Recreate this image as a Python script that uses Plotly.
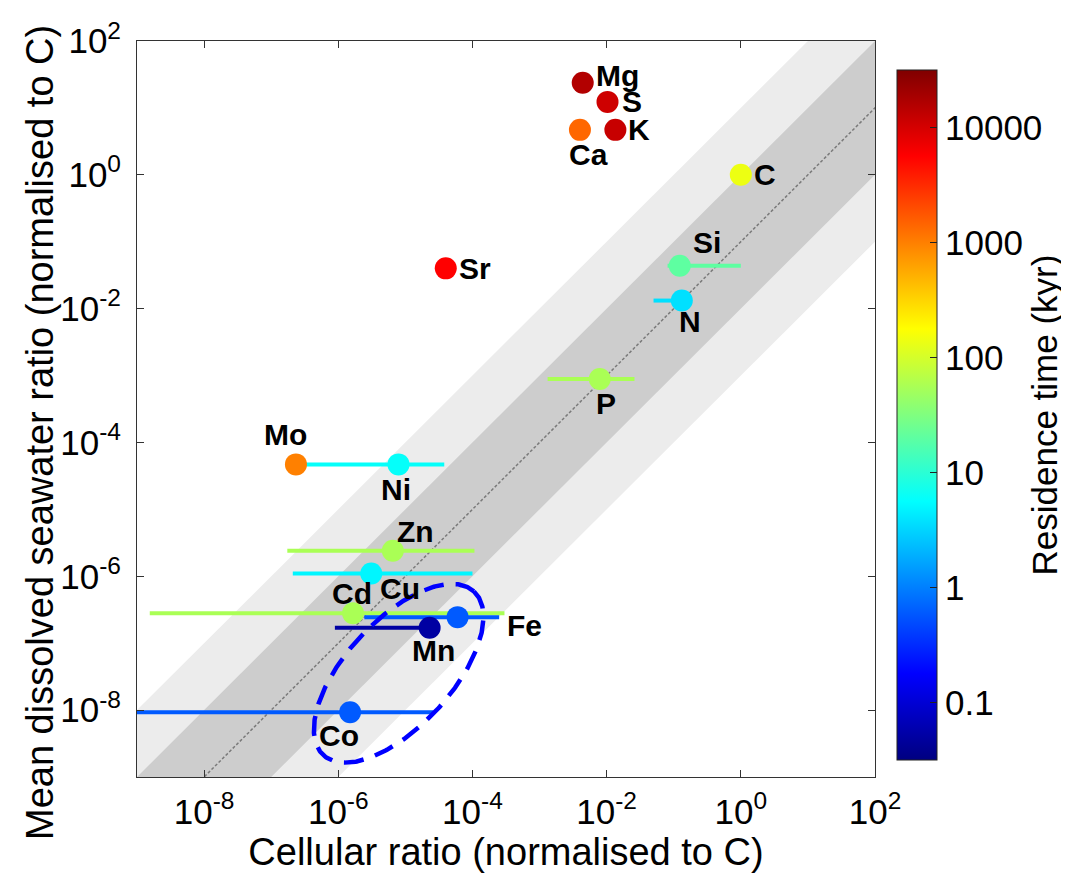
import numpy as np
import plotly.graph_objects as go

# ---------------- data ----------------
elements = ['Mg', 'S', 'K', 'Ca', 'C', 'Si', 'N', 'P', 'Sr', 'Mo', 'Ni', 'Zn', 'Cu', 'Cd', 'Fe', 'Mn', 'Co']
cellular_ratio = [4.4e-3, 1.03e-2, 1.35e-2, 4.0e-3, 1.0, 0.123, 0.132, 7.9e-3, 4.0e-5, 2.34e-7,
                  7.9e-6, 6.5e-6, 3.1e-6, 1.66e-6, 6.0e-5, 2.3e-5, 1.5e-6]
seawater_ratio = [23.7, 12.3, 4.7, 4.7, 1.0, 0.0437, 0.0132, 8.9e-4, 0.040, 4.7e-5,
                  4.7e-5, 2.4e-6, 1.1e-6, 2.8e-7, 2.45e-7, 1.7e-7, 9.3e-9]
nan = float('nan')
cellular_low = [nan, nan, nan, nan, nan, 0.081, 0.050, 1.32e-3, nan, nan,
                2.34e-7, 1.74e-7, 2.1e-7, 1.55e-9, 2.45e-6, 8.9e-7, 1e-10]
cellular_high = [nan, nan, nan, nan, nan, 1.0, 0.132, 0.026, nan, nan,
                 3.8e-5, 1.07e-4, 1.0e-4, 3.0e-4, 2.5e-4, 2.3e-5, 2.6e-5]
residence_kyr = [16000, 11000, 12000, 1400, 140, 20, 3.7, 56, 5600, 1000,
                 6, 56, 5, 56, 0.6, 0.05, 0.6]

x_tick_vals = [1e-8, 1e-6, 1e-4, 1e-2, 1e0, 1e2]
x_tick_text = ['10<sup>-8</sup>', '10<sup>-6</sup>', '10<sup>-4</sup>', '10<sup>-2</sup>', '10<sup>0</sup>', '10<sup>2</sup>']
y_tick_vals = [1e-8, 1e-6, 1e-4, 1e-2, 1e0, 1e2]
y_tick_text = ['10<sup>-8</sup>', '10<sup>-6</sup>', '10<sup>-4</sup>', '10<sup>-2</sup>', '10<sup>0</sup>', '10<sup>2</sup>']
cbar_tick_vals = [0.1, 1, 10, 100, 1000, 10000]
cbar_tick_text = ['0.1', '1', '10', '100', '1000', '10000']

x_title = 'Cellular ratio (normalised to C)'
y_title = 'Mean dissolved seawater ratio (normalised to C)'
cbar_title = 'Residence time (kyr)'

# band factors (seawater / cellular)
ref_factor = 1e-1
dark_band = (1e-2, 1e0)
light_band = (1e-3, 1e1)

# ellipse (log10 units)
ell_center = (-5.10, -7.45)
ell_axes = (1.66, 0.79)
ell_angle_deg = 47.5

# ---------------- styling ----------------
FONT = 'Liberation Sans, Arial, sans-serif'
CMIN, CMAX = -1.5, 4.5
JET = [[0.0, 'rgb(0,0,128)'], [0.125, 'rgb(0,0,255)'], [0.375, 'rgb(0,255,255)'],
       [0.625, 'rgb(255,255,0)'], [0.875, 'rgb(255,0,0)'], [1.0, 'rgb(128,0,0)']]

def jet_color(logv):
    f = min(max((logv - CMIN) / (CMAX - CMIN), 0), 1)
    stops = [(0, (0, 0, 128)), (0.125, (0, 0, 255)), (0.375, (0, 255, 255)),
             (0.625, (255, 255, 0)), (0.875, (255, 0, 0)), (1.0, (128, 0, 0))]
    for (f0, c0), (f1, c1) in zip(stops[:-1], stops[1:]):
        if f <= f1:
            t = (f - f0) / (f1 - f0)
            c = [round(a + (b - a) * t) for a, b in zip(c0, c1)]
            return 'rgb(%d,%d,%d)' % tuple(c)
    return 'rgb(128,0,0)'

# label placement: (xanchor, xshift, yshift)
label_pos = {
    'Mg': ('left', 11, 7), 'S': ('left', 12, 0), 'K': ('left', 11, 0), 'Ca': ('center', 9, -25),
    'C': ('left', 11, 0), 'Si': ('center', 27, 23), 'N': ('center', 8, -21), 'P': ('center', 6, -25),
    'Sr': ('left', 11, 0), 'Mo': ('center', -10, 30), 'Ni': ('center', -3, -25), 'Zn': ('center', 23, 19),
    'Cu': ('center', 29, -15), 'Cd': ('center', -1, 20), 'Fe': ('left', 47, -8), 'Mn': ('center', 4, -23),
    'Co': ('center', -11, -23),
}

fig = go.Figure()

xe = [1e-10, 1e3]
# light band
fig.add_trace(go.Scatter(x=[xe[0], xe[1], xe[1], xe[0]],
                         y=[xe[0] * light_band[0], xe[1] * light_band[0], xe[1] * light_band[1], xe[0] * light_band[1]],
                         fill='toself', fillcolor='#ececec', line=dict(width=0), mode='lines',
                         hoverinfo='skip', showlegend=False))
# dark band
fig.add_trace(go.Scatter(x=[xe[0], xe[1], xe[1], xe[0]],
                         y=[xe[0] * dark_band[0], xe[1] * dark_band[0], xe[1] * dark_band[1], xe[0] * dark_band[1]],
                         fill='toself', fillcolor='#cdcdcd', line=dict(width=0), mode='lines',
                         hoverinfo='skip', showlegend=False))
# reference line
fig.add_trace(go.Scatter(x=xe, y=[v * ref_factor for v in xe], mode='lines',
                         line=dict(color='#7a7a7a', width=1.5, dash='3px,2px'),
                         hoverinfo='skip', showlegend=False))

# error bars
log_res = [float(np.log10(r)) for r in residence_kyr]
for i, el in enumerate(elements):
    lo, hi = cellular_low[i], cellular_high[i]
    if np.isnan(lo):
        continue
    fig.add_trace(go.Scatter(x=[lo, hi], y=[seawater_ratio[i], seawater_ratio[i]], mode='lines',
                             line=dict(color=jet_color(log_res[i]), width=4),
                             hoverinfo='skip', showlegend=False))

# points
fig.add_trace(go.Scatter(
    x=cellular_ratio, y=seawater_ratio, mode='markers', text=elements, showlegend=False,
    marker=dict(size=22, color=log_res, colorscale=JET, cmin=CMIN, cmax=CMAX,
                line=dict(width=0),
                colorbar=dict(
                    x=1.0298, xanchor='left', xpad=0, y=0.4918, yanchor='middle', ypad=0,
                    len=0.9375, lenmode='fraction', thickness=40, thicknessmode='pixels',
                    outlinecolor='#222', outlinewidth=1,
                    tickvals=[float(np.log10(v)) for v in cbar_tick_vals], ticktext=cbar_tick_text,
                    ticks='inside', ticklen=7, tickcolor='#222',
                    tickfont=dict(family=FONT, size=35, color='black'),
                    title=dict(text=cbar_title, side='right',
                               font=dict(family=FONT, size=35, color='black')),
                )),
))

# ellipse
t = np.linspace(0, 2 * np.pi, 400)
th = np.deg2rad(ell_angle_deg)
u = ell_axes[0] * np.cos(t)
v = ell_axes[1] * np.sin(t)
lx = ell_center[0] + u * np.cos(th) - v * np.sin(th)
ly = ell_center[1] + u * np.sin(th) + v * np.cos(th)
fig.add_trace(go.Scatter(x=10 ** lx, y=10 ** ly, mode='lines',
                         line=dict(color='rgb(0,0,255)', width=4.5, dash='20px,12px'),
                         hoverinfo='skip', showlegend=False))

# labels
for i, el in enumerate(elements):
    xa, xs, ys = label_pos[el]
    fig.add_annotation(x=float(np.log10(cellular_ratio[i])), y=float(np.log10(seawater_ratio[i])),
                       xref='x', yref='y', text='<b>%s</b>' % el, showarrow=False,
                       xanchor=xa, yanchor='middle', xshift=xs, yshift=ys,
                       font=dict(family=FONT, size=30, color='black'))

# y axis title (placed as rotated annotation to match the reference offset)
fig.add_annotation(x=-0.1314, y=0.4674, xref='paper', yref='paper', text=y_title, textangle=-90,
                   showarrow=False, xanchor='center', yanchor='middle',
                   font=dict(family=FONT, size=38, color='black'))

axis_common = dict(type='log', range=[-9, 2], showgrid=False, zeroline=False,
                   showline=True, linecolor='#333', linewidth=1, mirror='ticks',
                   ticks='inside', ticklen=7, tickcolor='#333',
                   tickfont=dict(family=FONT, size=35, color='black'))

fig.update_layout(
    width=1061, height=869,
    margin=dict(l=129, r=194, t=33, b=100, autoexpand=False),
    paper_bgcolor='white', plot_bgcolor='white',
    font=dict(family=FONT, color='black'),
    xaxis=dict(**axis_common, tickvals=x_tick_vals, ticktext=x_tick_text, ticklabelstandoff=4,
               title=dict(text=x_title, font=dict(family=FONT, size=38), standoff=4)),
    yaxis=dict(**axis_common, tickvals=y_tick_vals, ticktext=y_tick_text, ticklabelstandoff=8),
    showlegend=False,
)

fig.write_html('out.html')
